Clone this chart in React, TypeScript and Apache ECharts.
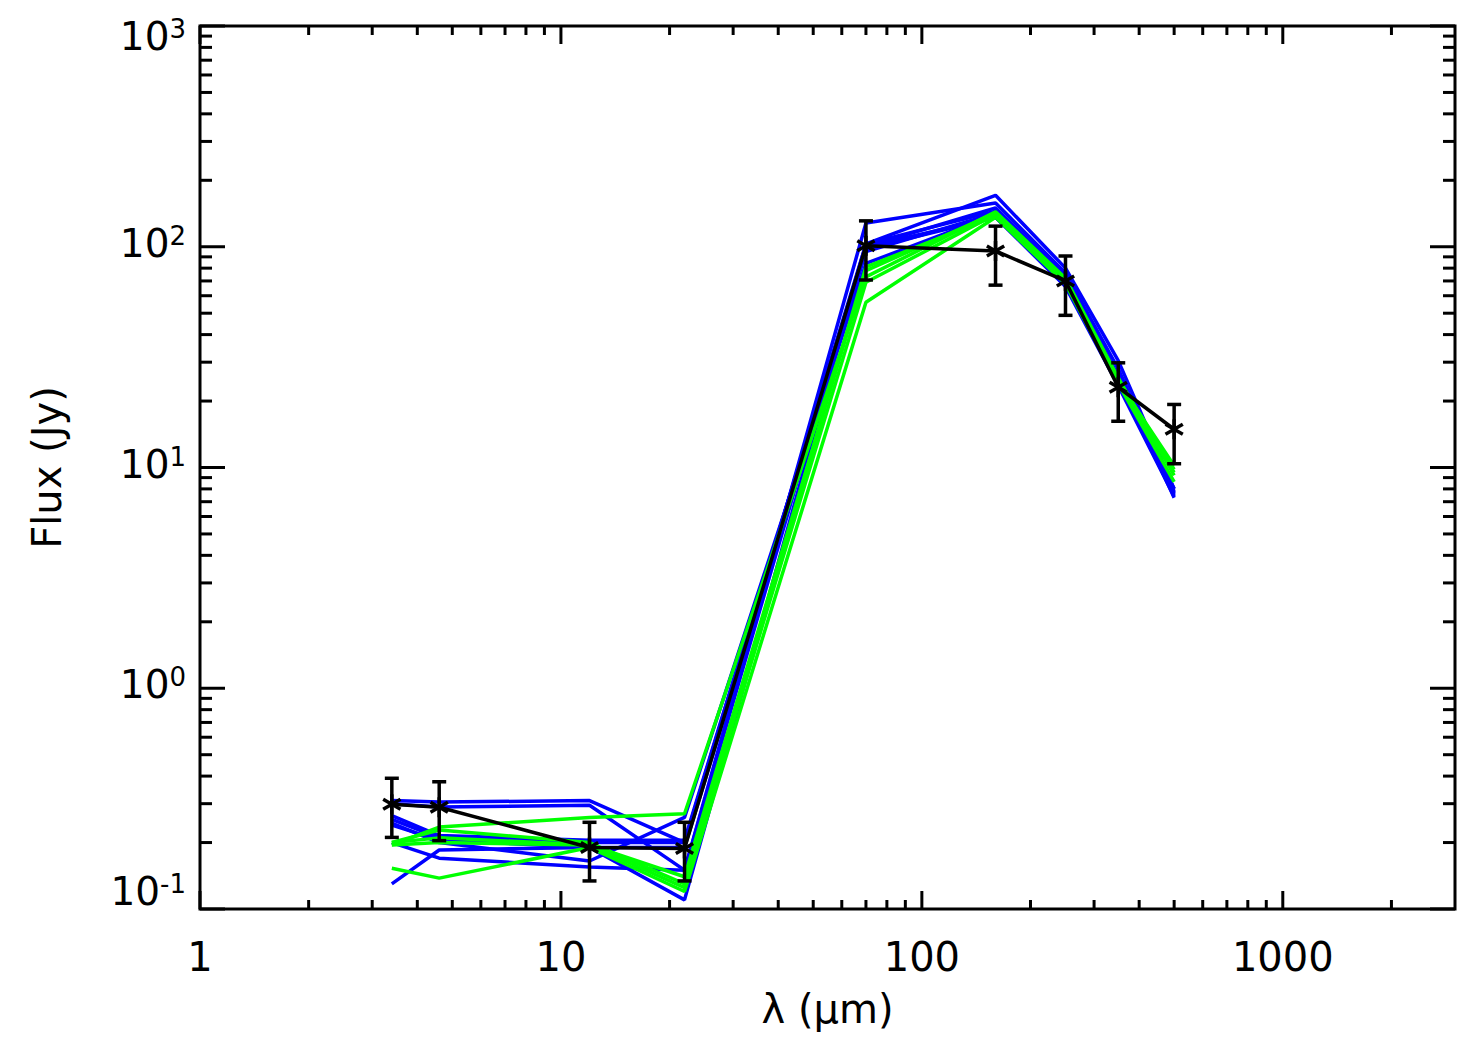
import React, { useEffect, useRef } from "react";
import * as echarts from "echarts";

// ---- data ----
const wavelengths = [3.4, 4.6, 12, 22, 70, 160, 250, 350, 500];
const observedFlux = [0.298, 0.289, 0.19, 0.188, 101, 95.7, 70, 23.1, 14.9];
const observedLow = [0.211, 0.204, 0.134, 0.134, 70.7, 67, 48.9, 16.2, 10.4];
const observedHigh = [0.391, 0.377, 0.247, 0.247, 131, 124, 90.8, 29.8, 19.3];

const blueModels = [
  [0.31, 0.305, 0.31, 0.2, 103, 171, 80, 30.5, 8.0],
  [0.3, 0.29, 0.295, 0.15, 128, 158, 76, 28, 7.6],
  [0.265, 0.215, 0.205, 0.205, 100, 150, 73, 26, 7.3],
  [0.255, 0.21, 0.2, 0.2, 98, 136, 68, 24, 7.5],
  [0.245, 0.2, 0.165, 0.26, 84, 140, 70, 25, 7.8],
  [0.2, 0.17, 0.155, 0.15, 103, 145, 72, 25.5, 8.0],
  [0.13, 0.185, 0.19, 0.11, 100, 136, 66, 23.5, 7.4],
  [0.24, 0.205, 0.19, 0.19, 95, 142, 71, 25, 7.7],
];
const greenModels = [
  [0.195, 0.235, 0.26, 0.27, 73, 144, 72, 25.5, 9.2],
  [0.2, 0.228, 0.2, 0.13, 69, 140, 71, 25, 9.8],
  [0.153, 0.138, 0.19, 0.12, 56, 136, 68, 24, 8.6],
  [0.195, 0.2, 0.195, 0.14, 78, 142, 70, 24.5, 10.2],
  [0.2, 0.21, 0.195, 0.125, 81, 138, 69, 24, 9.5],
];

const xMin = 1;
const xMax = 3000;
const yMin = 0.1;
const yMax = 1000;
const xMajorTicks = [1, 10, 100, 1000];
const xMinorTicks = [2, 3, 4, 5, 6, 7, 8, 9, 20, 30, 40, 50, 60, 70, 80, 90, 200, 300, 400, 500, 600, 700, 800, 900, 2000];
const yTickValues = [0.1, 1, 10, 100, 1000];
const yTickExponents = ["-1", "0", "1", "2", "3"];
const yMinorTicks = [
  0.2, 0.3, 0.4, 0.5, 0.6, 0.7, 0.8, 0.9,
  2, 3, 4, 5, 6, 7, 8, 9,
  20, 30, 40, 50, 60, 70, 80, 90,
  200, 300, 400, 500, 600, 700, 800, 900,
];
const xTitle = "λ (μm)";
const yTitle = "Flux (Jy)";

const FONT = "'DejaVu Sans', 'Liberation Sans', sans-serif";

export default function App() {
  const ref = useRef<HTMLDivElement>(null);
  useEffect(() => {
    if (!ref.current) return;
    const chart = echarts.init(ref.current, null, { renderer: "svg" });

    const lineSeries = (vals: number[], color: string, name: string) => ({
      type: "line",
      name,
      data: wavelengths.map((w, i) => [w, vals[i]]),
      showSymbol: false,
      symbol: "none",
      lineStyle: { color, width: 3.5 },
      silent: true,
    });

    const series: any[] = [];
    blueModels.forEach((m, i) => series.push(lineSeries(m, "#0000ff", "blue" + i)));
    greenModels.forEach((m, i) => series.push(lineSeries(m, "#00ff00", "green" + i)));
    series.push(lineSeries(observedFlux, "#000000", "observed"));

    // error bars + asterisks
    series.push({
      type: "custom",
      name: "errors",
      clip: false,
      silent: true,
      data: wavelengths.map((w, i) => [w, observedFlux[i], observedLow[i], observedHigh[i]]),
      encode: { x: 0, y: 1 },
      renderItem: (params: any, api: any) => {
        const x = api.value(0);
        const p = api.coord([x, api.value(1)]);
        const lo = api.coord([x, api.value(2)]);
        const hi = api.coord([x, api.value(3)]);
        const st = { stroke: "#000", lineWidth: 3.5 };
        const cap = 7;
        const r = 10;
        const c30 = Math.cos(Math.PI / 6) * r;
        const s30 = Math.sin(Math.PI / 6) * r;
        return {
          type: "group",
          children: [
            { type: "line", shape: { x1: lo[0], y1: lo[1], x2: hi[0], y2: hi[1] }, style: st },
            { type: "line", shape: { x1: lo[0] - cap, y1: lo[1], x2: lo[0] + cap, y2: lo[1] }, style: st },
            { type: "line", shape: { x1: hi[0] - cap, y1: hi[1], x2: hi[0] + cap, y2: hi[1] }, style: st },
            { type: "line", shape: { x1: p[0], y1: p[1] - r, x2: p[0], y2: p[1] + r }, style: st },
            { type: "line", shape: { x1: p[0] - c30, y1: p[1] - s30, x2: p[0] + c30, y2: p[1] + s30 }, style: st },
            { type: "line", shape: { x1: p[0] - c30, y1: p[1] + s30, x2: p[0] + c30, y2: p[1] - s30 }, style: st },
          ],
        };
      },
      z: 10,
    });

    // x ticks (bottom and top, inward)
    const xTickData = [
      ...xMajorTicks.map((v) => [v, 1, 1]),
      ...xMinorTicks.map((v) => [v, 1, 0]),
    ];
    series.push({
      type: "custom",
      name: "xticks",
      clip: false,
      silent: true,
      data: xTickData,
      encode: { x: 0, y: 1 },
      renderItem: (params: any, api: any) => {
        const cs = params.coordSys;
        const p = api.coord([api.value(0), yMin]);
        const len = api.value(2) ? 18 : 9;
        const st = { stroke: "#000", lineWidth: 3 };
        const top = cs.y;
        const bottom = cs.y + cs.height;
        return {
          type: "group",
          children: [
            { type: "line", shape: { x1: p[0], y1: bottom, x2: p[0], y2: bottom - len }, style: st },
            { type: "line", shape: { x1: p[0], y1: top, x2: p[0], y2: top + len }, style: st },
          ],
        };
      },
      z: 5,
    });

    // y ticks (left and right, inward)
    const yTickData = [
      ...yTickValues.map((v) => [1, v, 1]),
      ...yMinorTicks.map((v) => [1, v, 0]),
    ];
    series.push({
      type: "custom",
      name: "yticks",
      clip: false,
      silent: true,
      data: yTickData,
      encode: { x: 0, y: 1 },
      renderItem: (params: any, api: any) => {
        const cs = params.coordSys;
        const p = api.coord([xMin, api.value(1)]);
        const len = api.value(2) ? 25 : 12;
        const st = { stroke: "#000", lineWidth: 3 };
        const left = cs.x;
        const right = cs.x + cs.width;
        return {
          type: "group",
          children: [
            { type: "line", shape: { x1: left, y1: p[1], x2: left + len, y2: p[1] }, style: st },
            { type: "line", shape: { x1: right, y1: p[1], x2: right - len, y2: p[1] }, style: st },
          ],
        };
      },
      z: 5,
    });

    // y tick labels 10^n
    series.push({
      type: "custom",
      name: "ylabels",
      clip: false,
      silent: true,
      data: yTickValues.map((v, i) => [xMin, v, i]),
      encode: { x: 0, y: 1 },
      renderItem: (params: any, api: any) => {
        const idx = api.value(2);
        const p = api.coord([xMin, api.value(1)]);
        let shift = 0;
        if (idx === 0) shift = -14;
        if (idx === yTickValues.length - 1) shift = 14;
        return {
          type: "text",
          x: p[0] - 14,
          y: p[1] + shift - 4,
          style: {
            text: `{a|10}{b|${yTickExponents[idx]}}`,
            align: "right",
            verticalAlign: "middle",
            fill: "#000",
            rich: {
              a: { fontSize: 39, fontFamily: FONT, lineHeight: 40, verticalAlign: "bottom", fill: "#000" },
              b: { fontSize: 26, fontFamily: FONT, lineHeight: 27, verticalAlign: "top", padding: [0, 0, 21, 0], fill: "#000" },
            },
          },
        };
      },
      z: 5,
    });

    chart.setOption({
      animation: false,
      backgroundColor: "#ffffff",
      grid: {
        left: 200,
        right: 22,
        top: 26,
        bottom: 147,
        show: true,
        borderColor: "#000",
        borderWidth: 3,
        backgroundColor: "transparent",
      },
      xAxis: {
        type: "log",
        logBase: 10,
        min: xMin,
        max: xMax,
        interval: 1,
        axisLine: { show: false },
        axisTick: { show: false },
        splitLine: { show: false },
        minorTick: { show: false },
        axisLabel: {
          fontSize: 40,
          fontFamily: FONT,
          color: "#000",
          margin: 28,
          showMaxLabel: false,
          formatter: (v: number) => {
            const l = Math.log10(v);
            return Math.abs(l - Math.round(l)) < 1e-6 ? String(Math.round(v)) : "";
          },
        },
        name: xTitle,
        nameLocation: "middle",
        nameGap: 80,
        nameTextStyle: { fontSize: 40, fontFamily: FONT, color: "#000" },
      },
      yAxis: {
        type: "log",
        logBase: 10,
        min: yMin,
        max: yMax,
        interval: 1,
        axisLine: { show: false },
        axisTick: { show: false },
        splitLine: { show: false },
        axisLabel: { show: false },
        name: yTitle,
        nameLocation: "middle",
        nameGap: 133,
        nameTextStyle: { fontSize: 40, fontFamily: FONT, color: "#000" },
      },
      series,
    });
    return () => chart.dispose();
  }, []);
  return (
    <div
      ref={ref}
      style={{ position: "absolute", left: 0, top: 0, width: 1477, height: 1056, background: "#fff" }}
    />
  );
}
